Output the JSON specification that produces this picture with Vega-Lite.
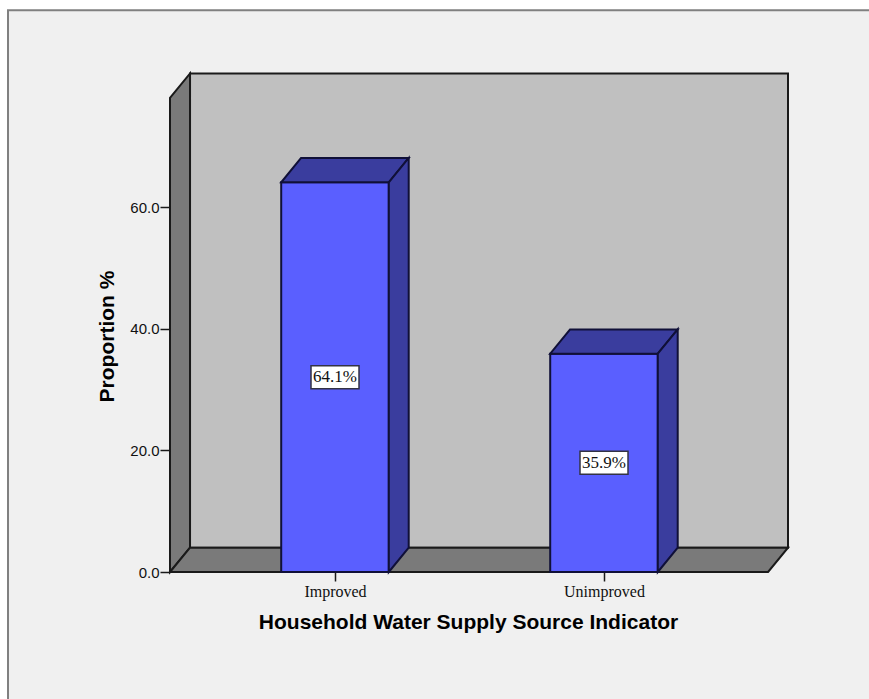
{
  "$schema": "https://vega.github.io/schema/vega-lite/v6.json",
  "width": 618,
  "height": 499,
  "autosize": {"type": "none"},
  "padding": {"left": 170, "top": 73, "right": 81, "bottom": 127},
  "background": "#ffffff",
  "view": {"stroke": null},
  "datasets": {
    "panel": [{"left": -0.2156, "right": 3.3, "top": 92.4, "bottom": -30}],
    "backWall": [{"left": 0.461, "right": 2.684, "top": 82, "bottom": 4}],
    "sideWall": [
      {"x": 0.3866, "low": 0, "high": 78},
      {"x": 0.461, "low": 4, "high": 82}
    ],
    "floor": [
      {"y": 0, "left": 0.3866, "right": 2.61},
      {"y": 4, "left": 0.461, "right": 2.684}
    ],
    "bars": [
      {"category": "Improved", "position": 1, "left": 0.8, "right": 1.2, "value": 64.1, "middle": 32.05, "label": "64.1%"},
      {"category": "Unimproved", "position": 2, "left": 1.8, "right": 2.2, "value": 35.9, "middle": 17.95, "label": "35.9%"}
    ],
    "barTops": [
      {"category": "Improved", "y": 64.1, "left": 0.8, "right": 1.2},
      {"category": "Improved", "y": 68.1, "left": 0.874, "right": 1.274},
      {"category": "Unimproved", "y": 35.9, "left": 1.8, "right": 2.2},
      {"category": "Unimproved", "y": 39.9, "left": 1.874, "right": 2.274}
    ],
    "barSides": [
      {"category": "Improved", "x": 1.2, "low": 0, "high": 64.1},
      {"category": "Improved", "x": 1.274, "low": 4, "high": 68.1},
      {"category": "Unimproved", "x": 2.2, "low": 0, "high": 35.9},
      {"category": "Unimproved", "x": 2.274, "low": 4, "high": 39.9}
    ]
  },
  "layer": [
    {
      "data": {"name": "panel"},
      "mark": {"type": "rect", "fill": "#f0f0f0", "stroke": "#808080", "strokeWidth": 2, "clip": false},
      "encoding": {
        "x": {
          "field": "left", "type": "quantitative",
          "scale": {"domain": [0.3866, 2.684], "nice": false, "zero": false},
          "axis": {
            "title": "Household Water Supply Source Indicator",
            "titleFont": "Liberation Sans", "titleFontSize": 21, "titleFontWeight": "bold", "titleColor": "#000000",
            "titleX": 298, "titleY": 50, "titleBaseline": "middle",
            "values": [1, 2],
            "labelExpr": "datum.value == 1 ? 'Improved' : 'Unimproved'",
            "labelFont": "Liberation Serif", "labelFontSize": 16, "labelColor": "#111111", "labelPadding": 2,
            "tickSize": 9, "tickColor": "#1a1a1a", "tickWidth": 1.5,
            "domain": false, "grid": false, "zindex": 1
          }
        },
        "x2": {"field": "right"},
        "y": {
          "field": "top", "type": "quantitative",
          "scale": {"domain": [0, 82.07], "nice": false, "zero": false},
          "axis": {
            "title": "Proportion %",
            "titleFont": "Liberation Sans", "titleFontSize": 21, "titleFontWeight": "bold", "titleColor": "#000000",
            "titleX": -63, "titleY": 263, "titleBaseline": "middle",
            "values": [0, 20, 40, 60], "format": ".1f",
            "labelFont": "Liberation Sans", "labelFontSize": 15, "labelColor": "#111111", "labelPadding": 1,
            "tickSize": 10, "tickColor": "#1a1a1a", "tickWidth": 1.5,
            "domain": false, "grid": false, "zindex": 1
          }
        },
        "y2": {"field": "bottom"}
      }
    },
    {
      "data": {"name": "backWall"},
      "mark": {"type": "rect", "fill": "#c0c0c0", "stroke": "#1a1a1a", "strokeWidth": 2, "clip": false},
      "encoding": {
        "x": {"field": "left", "type": "quantitative"},
        "x2": {"field": "right"},
        "y": {"field": "top", "type": "quantitative"},
        "y2": {"field": "bottom"}
      }
    },
    {
      "data": {"name": "sideWall"},
      "mark": {"type": "area", "orient": "vertical", "fill": "#7a7a7a", "stroke": "#1a1a1a", "strokeWidth": 2, "clip": false},
      "encoding": {
        "x": {"field": "x", "type": "quantitative"},
        "y": {"field": "low", "type": "quantitative"},
        "y2": {"field": "high"}
      }
    },
    {
      "data": {"name": "floor"},
      "mark": {"type": "area", "orient": "horizontal", "fill": "#7a7a7a", "stroke": "#1a1a1a", "strokeWidth": 2, "clip": false},
      "encoding": {
        "y": {"field": "y", "type": "quantitative"},
        "x": {"field": "left", "type": "quantitative"},
        "x2": {"field": "right"}
      }
    },
    {
      "data": {"name": "bars"},
      "mark": {"type": "rect", "fill": "#5a5fff", "stroke": "#101038", "strokeWidth": 2, "clip": false},
      "encoding": {
        "x": {"field": "left", "type": "quantitative"},
        "x2": {"field": "right"},
        "y": {"field": "value", "type": "quantitative"},
        "y2": {"datum": 0}
      }
    },
    {
      "data": {"name": "barTops"},
      "mark": {"type": "area", "orient": "horizontal", "fill": "#3a3d9e", "stroke": "#101038", "strokeWidth": 2, "clip": false},
      "encoding": {
        "detail": {"field": "category"},
        "y": {"field": "y", "type": "quantitative"},
        "x": {"field": "left", "type": "quantitative"},
        "x2": {"field": "right"}
      }
    },
    {
      "data": {"name": "barSides"},
      "mark": {"type": "area", "orient": "vertical", "fill": "#3a3d9e", "stroke": "#101038", "strokeWidth": 2, "clip": false},
      "encoding": {
        "detail": {"field": "category"},
        "x": {"field": "x", "type": "quantitative"},
        "y": {"field": "low", "type": "quantitative"},
        "y2": {"field": "high"}
      }
    },
    {
      "data": {"name": "bars"},
      "mark": {"type": "rect", "width": 48, "height": 23, "fill": "#ffffff", "stroke": "#333344", "strokeWidth": 1.5},
      "encoding": {
        "x": {"field": "position", "type": "quantitative"},
        "y": {"field": "middle", "type": "quantitative"}
      }
    },
    {
      "data": {"name": "bars"},
      "mark": {"type": "text", "font": "Liberation Serif", "fontSize": 17, "color": "#111111", "align": "center", "baseline": "middle"},
      "encoding": {
        "x": {"field": "position", "type": "quantitative"},
        "y": {"field": "middle", "type": "quantitative"},
        "text": {"field": "label"}
      }
    }
  ]
}
